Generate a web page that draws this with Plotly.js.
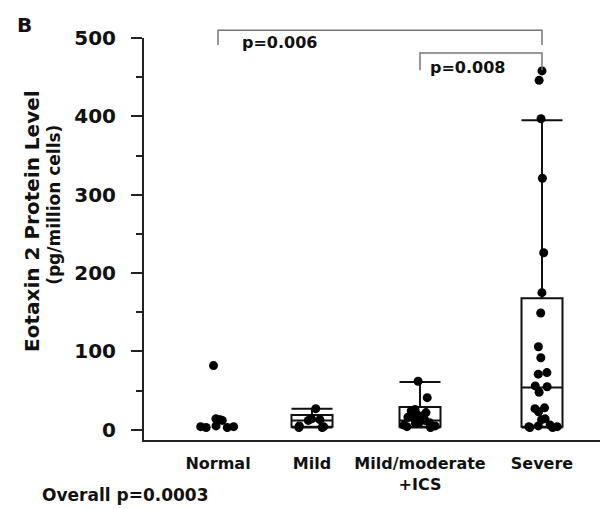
<!DOCTYPE html>
<html>
<head>
<meta charset="utf-8">
<script src="https://cdn.plot.ly/plotly-3.0.1.min.js"></script>
<style>html,body{margin:0;padding:0;background:#fff;}#chart{width:605px;height:509px;}</style>
</head>
<body>
<div id="chart"></div>
<script>
// ---- data ----
const groups = ["Normal", "Mild", "Mild/moderate<br>+ICS", "Severe"];
const normalVals = [82, 14, 13, 13, 12, 5, 4, 4, 3, 3];
const mildVals = [27, 14, 13, 12, 5, 4, 3, 3];
const mildModVals = [62, 41, 26, 24, 22, 20, 18, 16, 14, 12, 10, 9, 8, 6, 5, 4, 3];
const severeVals = [458, 446, 397, 321, 226, 175, 149, 106, 92, 73, 71, 56, 55, 48, 28, 27, 23, 14, 13, 6, 5, 4, 4, 3, 3];
// box summaries (Mild, Mild/moderate+ICS, Severe)
const boxGroups = [1, 2, 3];
const q1Vals = [4, 4, 4];
const medianVals = [12, 12, 54];
const q3Vals = [19, 29, 168];
const lowerVals = [3, 3, 3];
const upperVals = [27, 61, 395];
const pLabels = ["p=0.006", "p=0.008"];
const overallLabel = "Overall p=0.0003";

// ---- layout constants ----
const groupPos = [218, 312, 420, 542];
const XR = [144, 600], YR = [-13, 500];
const boxW = 41;
const px = v => (v - XR[0]) / (XR[1] - XR[0]);
const py = v => (v - YR[0]) / (YR[1] - YR[0]);
const FONT = "DejaVu Sans, Verdana, sans-serif";

const allVals = [normalVals, mildVals, mildModVals, severeVals];
const traces = [];
boxGroups.forEach((g, i) => {
  traces.push({
    type: 'box', x: [groupPos[g]], q1: [q1Vals[i]], median: [medianVals[i]], q3: [q3Vals[i]],
    lowerfence: [lowerVals[i]], upperfence: [upperVals[i]],
    width: boxW, whiskerwidth: 1, boxpoints: false,
    line: {color: '#111', width: 2}, fillcolor: 'rgba(255,255,255,0)',
    hoverinfo: 'skip', showlegend: false
  });
});
allVals.forEach((vals, g) => {
  traces.push({
    type: 'box', y: vals, x0: groupPos[g], width: boxW,
    boxpoints: 'all', jitter: 1, pointpos: 0,
    marker: {color: '#000', size: 9},
    line: {width: 0, color: 'rgba(0,0,0,0)'}, fillcolor: 'rgba(0,0,0,0)',
    hoverinfo: 'skip', showlegend: false
  });
});

const brk = (x0, x1, yTop, yLeg) => ({
  type: 'path', xref: 'paper', yref: 'paper',
  path: `M${px(x0)},${py(yLeg)} L${px(x0)},${py(yTop)} L${px(x1)},${py(yTop)} L${px(x1)},${py(yLeg)}`,
  line: {color: '#777', width: 1.5}
});
const shapes = [
  brk(groupPos[0], groupPos[3], 510, 491),
  brk(groupPos[2], groupPos[3], 481, 459)
];

const layout = {
  width: 605, height: 509,
  margin: {l: 144, r: 5, t: 38, b: 69},
  paper_bgcolor: '#fff', plot_bgcolor: '#fff',
  font: {family: FONT, color: '#111'},
  showlegend: false,
  boxmode: 'overlay',
  xaxis: {
    range: XR, showgrid: false, zeroline: false,
    showline: true, linecolor: '#222', linewidth: 2,
    ticks: '', tickvals: groupPos, ticktext: groups,
    tickfont: {family: FONT, size: 16, color: '#111', weight: 'bold'},
    ticklabelstandoff: 8
  },
  yaxis: {
    range: YR, showgrid: false, zeroline: false,
    showline: true, linecolor: '#222', linewidth: 2,
    tickvals: [0, 100, 200, 300, 400, 500],
    ticks: 'outside', ticklen: 11, tickwidth: 2, tickcolor: '#222',
    minor: {ticks: 'outside', ticklen: 6, tickwidth: 2, tickcolor: '#222', dtick: 50, tick0: 0},
    tickfont: {family: FONT, size: 20, color: '#111', weight: 'bold'},
    ticklabelstandoff: 11
  },
  shapes: shapes,
  annotations: [
    {xref: 'paper', yref: 'paper', x: px(24), y: py(500 + (38 - 25) * 513 / 402), text: 'B', showarrow: false,
     font: {family: FONT, size: 20, weight: 'bold'}, xanchor: 'center', yanchor: 'middle'},
    {xref: 'paper', yref: 'paper', x: px(32), y: 0.545, text: 'Eotaxin 2 Protein Level', textangle: -90, showarrow: false,
     font: {family: FONT, size: 20, weight: 'bold'}, xanchor: 'center', yanchor: 'middle'},
    {xref: 'paper', yref: 'paper', x: px(54), y: 0.585, text: '(pg/million cells)', textangle: -90, showarrow: false,
     font: {family: FONT, size: 17, weight: 'bold'}, xanchor: 'center', yanchor: 'middle'},
    {xref: 'x', yref: 'y', x: 240, y: 494, text: pLabels[0], showarrow: false, xanchor: 'left', yanchor: 'middle',
     font: {family: FONT, size: 16, weight: 'bold'}},
    {xref: 'x', yref: 'y', x: 428, y: 462, text: pLabels[1], showarrow: false, xanchor: 'left', yanchor: 'middle',
     font: {family: FONT, size: 16, weight: 'bold'}},
    {xref: 'paper', yref: 'paper', x: px(40), y: -0.137, text: overallLabel, showarrow: false, xanchor: 'left', yanchor: 'middle',
     font: {family: FONT, size: 17, weight: 'bold'}}
  ]
};

Plotly.newPlot('chart', traces, layout, {displayModeBar: false, staticPlot: true});
</script>
</body>
</html>
